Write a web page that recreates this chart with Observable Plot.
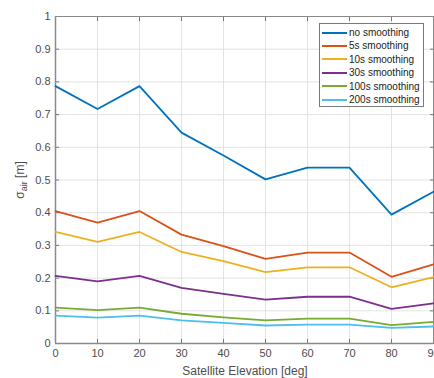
<!DOCTYPE html>
<html><head><meta charset="utf-8">
<script src="https://cdn.jsdelivr.net/npm/d3@7"></script>
<script src="https://cdn.jsdelivr.net/npm/@observablehq/plot@0.6"></script>
<style>
html,body{margin:0;padding:0;overflow:hidden;background:#fff;}
#wrap{position:relative;width:434px;height:378px;}
#legend{position:absolute;left:319px;top:23px;width:105px;height:84px;box-sizing:border-box;border:1px solid #7a7a7a;background:#fff;font-family:"Liberation Sans",Arial,sans-serif;font-size:10px;color:#222;white-space:nowrap;}
#legend .row{position:absolute;left:2px;height:13px;display:flex;align-items:center;white-space:nowrap;}
#legend .sw{width:25px;height:2px;margin-right:2px;flex:none;}
</style>
</head><body>
<div id="wrap"></div>
<script>
const elevation = [0,10,20,30,40,50,60,70,80,90];
const seriesNames = ["no smoothing","5s smoothing","10s smoothing","30s smoothing","100s smoothing","200s smoothing"];
const seriesColors = ["#0072BD","#D95319","#EDB120","#7E2F8E","#77AC30","#4DBEEE"];
const noSmoothing = [0.787,0.717,0.787,0.645,0.575,0.502,0.538,0.538,0.394,0.464];
const s5 = [0.405,0.370,0.405,0.333,0.298,0.259,0.278,0.278,0.204,0.242];
const s10 = [0.341,0.311,0.341,0.280,0.252,0.218,0.233,0.233,0.172,0.203];
const s30 = [0.207,0.190,0.207,0.170,0.152,0.134,0.143,0.143,0.106,0.123];
const s100 = [0.110,0.102,0.110,0.091,0.080,0.071,0.076,0.076,0.056,0.066];
const s200 = [0.085,0.079,0.085,0.071,0.063,0.055,0.058,0.058,0.048,0.052];
const yTicks = [0,0.1,0.2,0.3,0.4,0.5,0.6,0.7,0.8,0.9,1];
const xTicks = [0,10,20,30,40,50,60,70,80,90];

const allSeries = [noSmoothing,s5,s10,s30,s100,s200];
const data = [];
allSeries.forEach((vals,i)=>vals.forEach((v,j)=>data.push({x:elevation[j],y:v,s:seriesNames[i]})));

const font = '"Liberation Sans",Arial,sans-serif';
const chart = Plot.plot({
  width:434, height:378,
  marginLeft:55, marginRight:1, marginTop:16, marginBottom:35,
  style:{fontFamily:font,fontSize:"11px",color:"#4d4d4d",background:"#fff",overflow:"hidden"},
  x:{domain:[0,90]},
  y:{domain:[0,1]},
  color:{domain:seriesNames,range:seriesColors},
  marks:[
    Plot.gridX(xTicks,{stroke:"#e3e3e3",strokeOpacity:1}),
    Plot.gridY(yTicks,{stroke:"#e3e3e3",strokeOpacity:1}),
    Plot.axisY(yTicks,{anchor:"left",tickSize:-4,tickPadding:9,tickFormat:d=>d===0?"0":d===1?"1":d.toFixed(1),label:null,stroke:"#777"}),
    Plot.axisY(yTicks,{anchor:"right",tickSize:-4,tickFormat:()=>"",label:null,stroke:"#777"}),
    Plot.axisX(xTicks,{anchor:"bottom",tickSize:-4,tickPadding:10,tickFormat:d=>String(d),label:null,stroke:"#777"}),
    Plot.axisX(xTicks,{anchor:"top",tickSize:-4,tickFormat:()=>"",label:null,stroke:"#777"}),
    Plot.frame({stroke:"#8a8a8a"}),
    Plot.ruleX([0],{stroke:"#8a8a8a",strokeWidth:1.5}),
    Plot.ruleY([0],{stroke:"#8a8a8a",strokeWidth:1.5}),
    Plot.line(data,{x:"x",y:"y",z:"s",stroke:"s",strokeWidth:1.8})
  ]
});
document.getElementById("wrap").appendChild(chart);

const svg = d3.select(chart);
svg.append("text")
  .attr("text-anchor","middle").attr("x",245).attr("y",375)
  .attr("fill","#4d4d4d").style("font-size","12px").style("font-family",font)
  .text("Satellite Elevation [deg]");
const yl = svg.append("text")
  .attr("text-anchor","middle")
  .attr("transform","translate(24,180) rotate(-90)")
  .attr("fill","#4d4d4d").style("font-size","12px").style("font-family",font);
yl.append("tspan").text("σ");
yl.append("tspan").attr("dy","3").style("font-size","9px").text("air");
yl.append("tspan").attr("dy","-3").text(" [m]");

const leg = document.createElement("div");
leg.id="legend";
seriesNames.forEach((n,i)=>{
  const r=document.createElement("div");r.className="row";r.style.top=(2+i*13.4)+"px";
  const sw=document.createElement("div");sw.className="sw";sw.style.background=seriesColors[i];
  const t=document.createElement("span");t.textContent=n;
  r.appendChild(sw);r.appendChild(t);leg.appendChild(r);
});
document.getElementById("wrap").appendChild(leg);
</script>
</body></html>
